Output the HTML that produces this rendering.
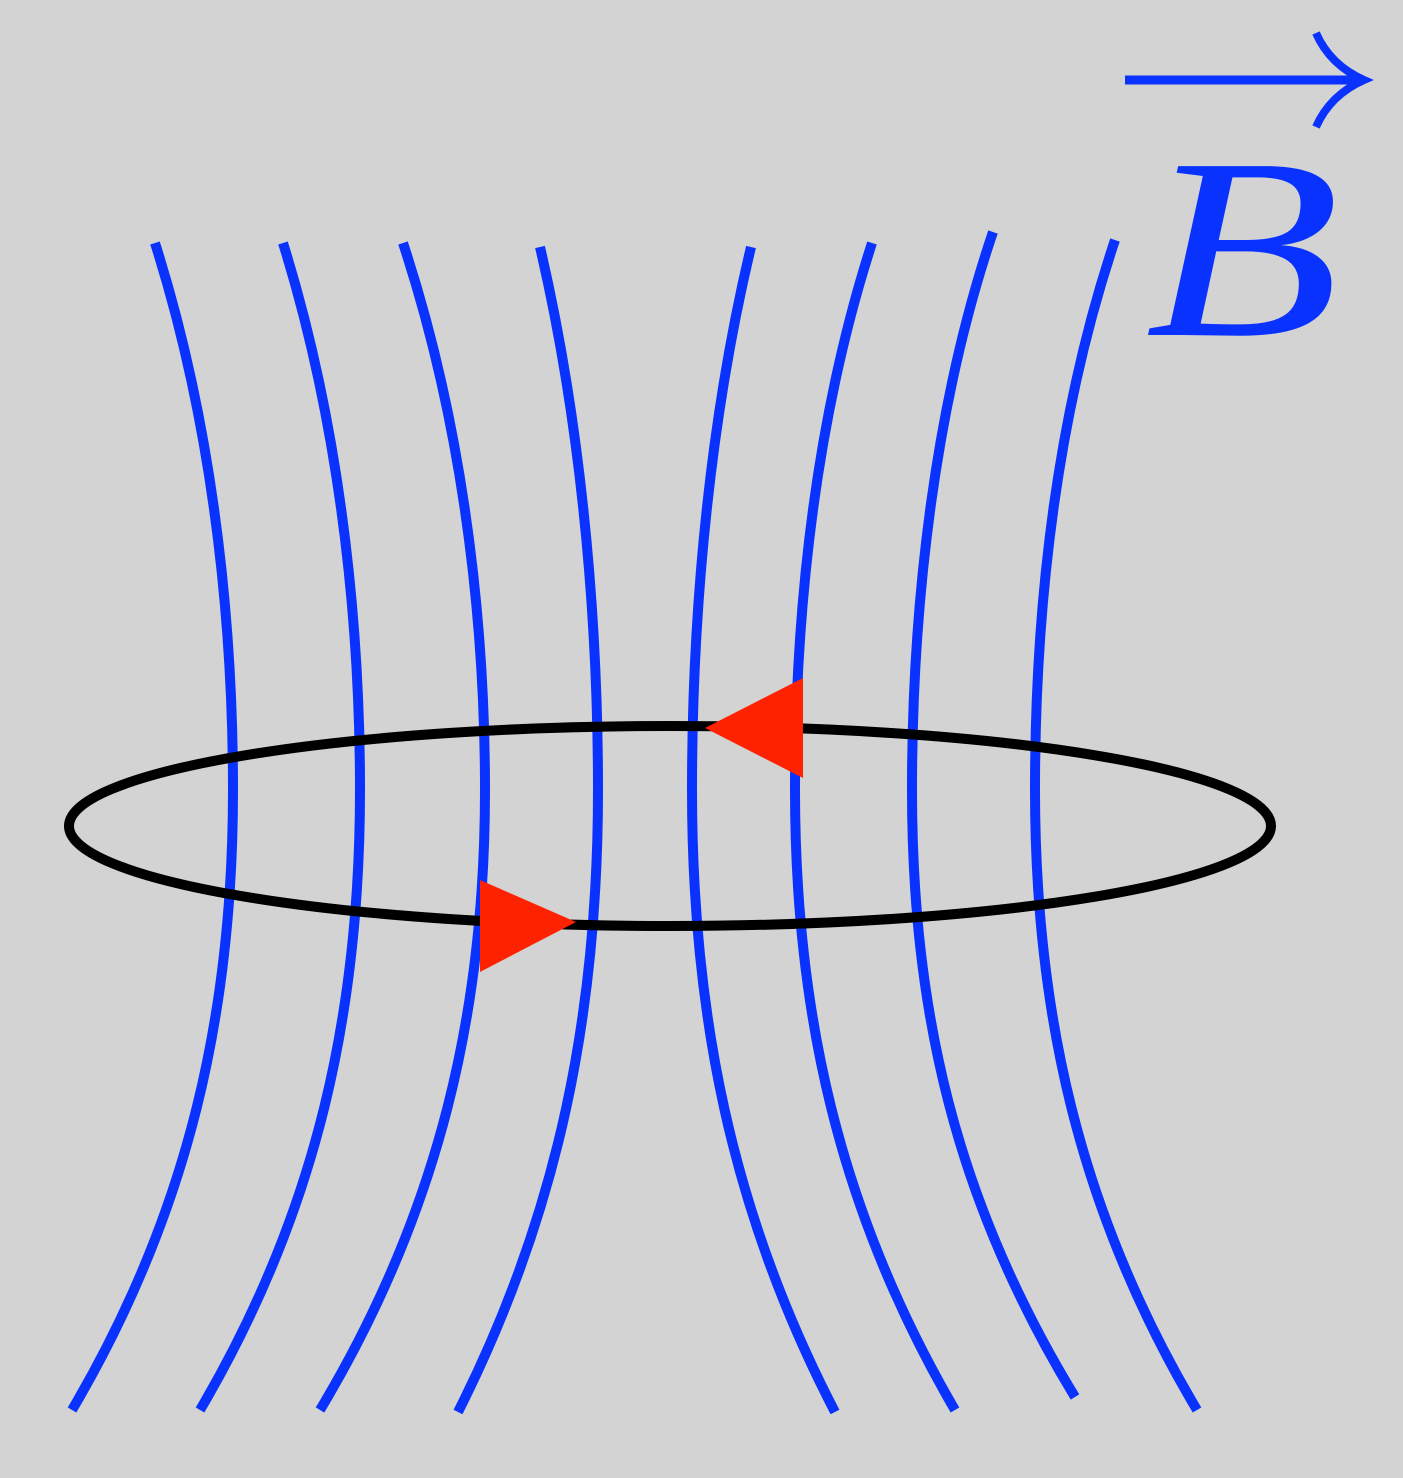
<!DOCTYPE html>
<html><head><meta charset="utf-8"><style>
html,body{margin:0;padding:0;background:#d3d3d3;}
svg{display:block;}
</style></head><body>
<svg width="1403" height="1478" viewBox="0 0 1403 1478">
<rect x="0" y="0" width="1403" height="1478" fill="#d3d3d3"/>
<g fill="none" stroke="#0a32ff" stroke-width="10">
<path d="M155,243 C208,410 233,600 233,790 C233,1010 190,1210 72,1410"/>
<path d="M283,243 C335,410 360,600 360,790 C360,1010 318,1210 200,1410"/>
<path d="M403,243 C458,410 485,600 485,790 C485,1010 440,1210 320,1410"/>
<path d="M540,247 C578,410 598,600 598,790 C598,1010 560,1210 458,1412"/>
<path d="M751,247 C712,410 692,600 692,790 C692,1010 730,1210 835,1412"/>
<path d="M872,243 C818,410 795,600 795,790 C795,1010 838,1210 955,1410"/>
<path d="M993,232 C936,400 912,600 912,790 C912,1010 955,1200 1075,1397"/>
<path d="M1115,240 C1058,410 1035,600 1035,790 C1035,1010 1078,1210 1197,1410"/>
</g>
<ellipse cx="670" cy="826" rx="601" ry="100" fill="none" stroke="#000" stroke-width="10"/>
<polygon points="480,880 480,972 576,922" fill="#ff2200"/>
<polygon points="803,678 803,778 705,728" fill="#ff2200"/>
<g fill="#0a32ff">
<line x1="1125" y1="80" x2="1355" y2="80" stroke="#0a32ff" stroke-width="9"/>
<path d="M1316,33 Q1330,65 1364,80 Q1330,95 1316,127" fill="none" stroke="#0a32ff" stroke-width="8"/>
<text x="1145" y="335" font-family="Liberation Serif, serif" font-style="italic" font-size="258" textLength="195" lengthAdjust="spacingAndGlyphs">B</text>
</g>
</svg>
</body></html>
